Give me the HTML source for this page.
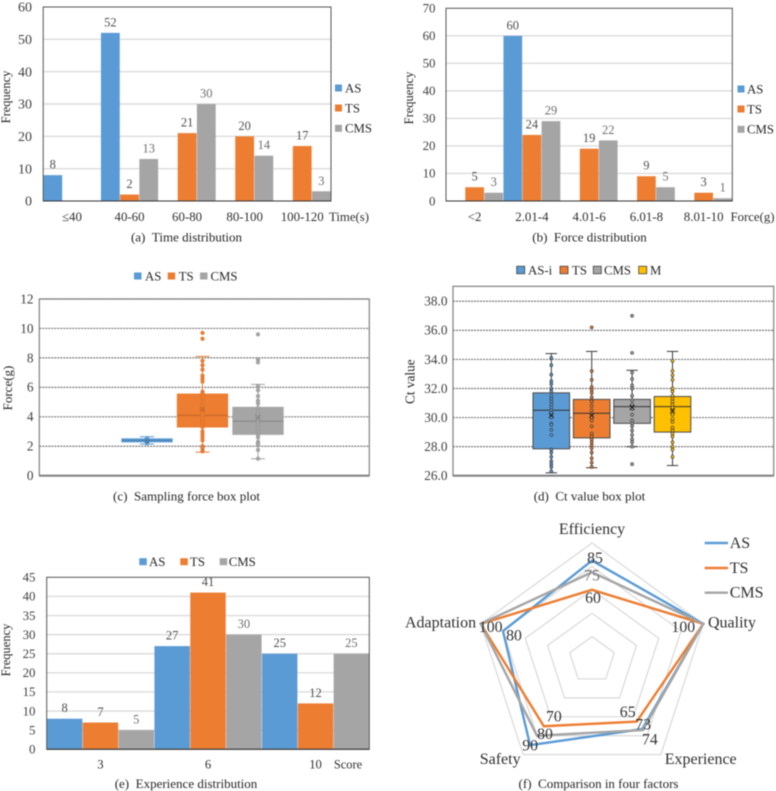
<!DOCTYPE html>
<html>
<head>
<meta charset="utf-8">
<title>Sampling comparison charts</title>
<style>
html,body{margin:0;padding:0;background:#fff;width:776px;height:791px;overflow:hidden}
svg{display:block;font-family:"Liberation Serif",serif;filter:blur(.45px)}
</style>
</head>
<body>
<svg id="figure" xmlns="http://www.w3.org/2000/svg" width="776" height="791" viewBox="0 0 776 791">
<g id="layer"></g>
<g font-size="13" fill="#262626" text-anchor="middle">
<text x="186.5" y="241.5">(a)&#160;&#160;Time distribution</text>
<text x="589.5" y="241.5">(b)&#160;&#160;Force distribution</text>
<text x="186.5" y="500.5">(c)&#160;&#160;Sampling force box plot</text>
<text x="589.5" y="500.5">(d)&#160;&#160;Ct value box plot</text>
<text x="186" y="788">(e)&#160;&#160;Experience distribution</text>
<text x="598.5" y="788">(f)&#160;&#160;Comparison in four factors</text>
</g>
</svg>
<script>
// Chart (a)
const timeCategories = ['≤40','40-60','60-80','80-100','100-120'];
const timeAS = [8,52,null,null,null];
const timeTS = [null,2,21,20,17];
const timeCMS = [null,13,30,14,3];
const timeTicks = [0,10,20,30,40,50,60];
// Chart (b)
const forceCategories = ['<2','2.01-4','4.01-6','6.01-8','8.01-10'];
const forceAS = [null,60,null,null,null];
const forceTS = [5,24,19,9,3];
const forceCMS = [3,29,22,5,1];
const forceTicks = [0,10,20,30,40,50,60,70];
// Chart (c)
const boxForceTicks = [0,2,4,6,8,10,12];
const boxForceNames = ['AS','TS','CMS'];
const boxForceQ1 = [2.29,3.3,2.8];
const boxForceMedian = [2.4,4.1,3.7];
const boxForceQ3 = [2.51,5.55,4.65];
const boxForceLow = [2.15,1.6,1.15];
const boxForceHigh = [2.65,8.1,6.2];
const boxForceMean = [2.4,4.5,3.95];
const forcePointsAS = [2.2,2.3,2.35,2.4,2.45,2.5];
const forcePointsTS = [9.7,9.3,7.8,7.5,7.2,6.8,6.6,6.4,5.7,5.6,5.5,5.3,5.0,4.7,4.5,4.3,4.1,3.9,3.7,3.5,3.3,3.0,2.8,2.6,2.4,2.0,1.9,1.7,1.65];
const forcePointsCMS = [9.6,7.9,7.7,6.1,5.8,5.4,5.1,4.9,4.6,4.4,4.2,4.0,3.8,3.6,3.4,3.2,3.0,2.8,2.6,2.3,2.2,2.1,1.75,1.15];
// Chart (d)
const ctTicks = [26,28,30,32,34,36,38];
const ctNames = ['AS-i','TS','CMS','M'];
const ctQ1 = [27.85,28.6,29.6,29];
const ctMedian = [30.5,30.3,30.75,30.75];
const ctQ3 = [31.7,31.25,31.25,31.45];
const ctLow = [26.2,26.55,28,26.7];
const ctHigh = [34.4,34.55,33.25,34.55];
const ctMean = [30.15,30.15,30.7,30.45];
const ctPointsAS = [34.1,33.6,32.95,32.5,32.3,32.0,31.8,31.5,31.3,31.1,30.9,30.7,30.5,30.3,30.1,30.0,29.6,29.5,29.15,28.8,27.8,27.6,27.3,27.0,26.8,26.6,26.3];
const ctPointsTS = [36.2,33.2,32.6,32.1,31.9,31.7,31.4,31.2,31.1,30.8,30.5,30.2,30.0,29.8,29.4,28.9,28.7,28.5,28.3,28.1,27.9,27.6,27.2,26.9,26.6];
const ctPointsCMS = [37,34.45,33.1,32.65,32.2,32.0,31.5,31.2,30.9,30.6,30.2,29.8,29.6,29.4,29.1,28.8,28.5,28.3,28.0,26.8];
const ctPointsM = [33.9,33.2,32.9,32.6,32,31.8,31.5,31.3,31.1,30.9,30.7,30.5,30.2,29.9,29.7,29.3,29.1,28.9,28.7,28.3,28,27.8,27.3];
// Chart (e)
const expCategories = ['3','6','10'];
const expAS = [8,27,25];
const expTS = [7,41,12];
const expCMS = [5,30,25];
const expTicks = [0,5,10,15,20,25,30,35,40,45];
// Chart (f)
const radarAxes = ['Efficiency','Quality','Experience','Safety','Adaptation'];
const radarAS = [85,100,73,90,80];
const radarTS = [60,100,65,70,100];
const radarCMS = [75,100,74,80,100];
const radarRings = [20,40,60,80,100];

const BLUE='#5b9bd5',ORANGE='#ed7d31',GRAY='#a5a5a5',GOLD='#ffc000',INK='#404040';
const NS='http://www.w3.org/2000/svg';
const layer=document.getElementById('layer');
function mk(tag,attrs,parent){
  const el=document.createElementNS(NS,tag);
  for(const k in attrs)el.setAttribute(k,attrs[k]);
  (parent||layer).appendChild(el);
  return el;
}
function label(parent,x,y,str,size,fill,anchor){
  const t=mk('text',{x:x,y:y,'font-size':size,fill:fill||INK,'text-anchor':anchor||'middle'},parent);
  t.textContent=str;
  return t;
}
function group(name){
  const g=mk('g',{});
  
  
  return g;
}
function rotated(parent,x,y,str,size){
  const t=mk('text',{x:0,y:0,'font-size':size,fill:'#262626','text-anchor':'middle',transform:'translate('+x+' '+y+') rotate(-90)'},parent);
  t.textContent=str;
  
  
}
function xTitle(parent,x,y,str,size){
  const t=label(parent,x,y,str,size,'#303030');
  
  
}
function legendEntry(parent,sx,sy,w,h,color,tx,str,size,outlined){
  const s=mk('rect',{x:sx,y:sy-h/2,width:w,height:h,fill:color},parent);
  if(outlined){s.setAttribute('stroke','#404040');s.setAttribute('stroke-width','.8');}
  
  
  const t=label(parent,tx,sy+4.4,str,size,'#262626','start');
  
  
}
function barChart(o){
  const g=group(o.name);
  const y=v=>o.bottom-(v/o.max)*(o.bottom-o.top);
  o.ticks.forEach(v=>{
    if(v>0&&v<o.max){
      const l=mk('line',{x1:o.left,x2:o.right,y1:y(v),y2:y(v),stroke:'#dcdcdc','stroke-width':1.4},g);
      
      
    }
    const t=label(g,o.tickX,y(v)+o.tickFs*.33,String(v),o.tickFs,INK,'end');
    
    
  });
  const gw=(o.right-o.left)/o.categories.length,bw=gw/o.series.length;
  o.categories.forEach((c,i)=>{
    o.series.forEach((s,j)=>{
      const v=s.values[i];
      if(v===null)return;
      const x=o.left+i*gw+j*bw;
      const b=mk('rect',{x:x+.2,y:y(v),width:bw-.4,height:o.bottom-y(v),fill:s.color},g);
      
      
      const t=label(g,x+bw/2,y(v)-6.5,String(v),o.valueFs,s.name==='CMS'?'#6f6f6f':'#505050');
      
      
    });
    const t=label(g,o.left+(i+.5)*gw,o.catY,c,o.catFs,'#303030');
    
    
  });
  const f=mk('rect',{x:o.left,y:o.top,width:o.right-o.left,height:o.bottom-o.top,fill:'none',stroke:'#555','stroke-width':1},g);
  
  
  const a=mk('line',{x1:o.left,x2:o.right,y1:o.bottom,y2:o.bottom,stroke:'#333','stroke-width':1},g);
  
  
  return g;
}
function boxChart(o){
  const g=group(o.name);
  const y=v=>o.bottom-((v-o.min)/(o.max-o.min))*(o.bottom-o.top);
  o.ticks.forEach(v=>{
    const edge=v===o.ticks[0];
    const l=mk('line',{x1:o.left,x2:o.right,y1:y(v),y2:y(v),stroke:edge?'#8c8c8c':'#787878','stroke-width':edge?2.2:1.2,'stroke-dasharray':edge?'none':'2 1'},g);
    
    
    const t=label(g,o.tickX,y(v)+o.tickFs*.33,o.tickFmt(v),o.tickFs,INK,'end');
    
    
  });
  const f=mk('rect',{x:o.left,y:o.top,width:o.right-o.left,height:o.bottom-o.top,fill:'none',stroke:'#808080','stroke-width':1.2},g);
  
  
  o.names.forEach((n,i)=>{
    const cx=o.first+i*o.gap,hw=o.boxW/2,col=o.colors[i];
    const wc=o.outlined?'#3a3a3a':col;
    const w=mk('line',{x1:cx,x2:cx,y1:y(o.high[i]),y2:y(o.low[i]),stroke:wc,'stroke-width':1},g);
    
    
    [o.high[i],o.low[i]].forEach(v=>{
      const c=mk('line',{x1:cx-o.cap,x2:cx+o.cap,y1:y(v),y2:y(v),stroke:wc,'stroke-width':1},g);
      
      
    });
    const b=mk('rect',{x:cx-hw,y:y(o.q3[i]),width:o.boxW,height:Math.max(y(o.q1[i])-y(o.q3[i]),1),fill:col,stroke:o.outlined?'#4a4a4a':col,'stroke-width':o.outlined?1:.8},g);
    
    
    const m=mk('line',{x1:cx-hw,x2:cx+hw,y1:y(o.median[i]),y2:y(o.median[i]),stroke:o.outlined?'#333':'#00000033','stroke-width':1},g);
    
    
    o.points[i].forEach(v=>{
      const p=mk('circle',{cx:cx,cy:y(v),r:o.outlined?1.5:2,fill:col,stroke:o.outlined?'#333':'#00000018','stroke-width':.6},g);
      
      
    });
    const my=y(o.mean[i]);
    const x=mk('path',{d:'M'+(cx-2.4)+' '+(my-2.4)+'L'+(cx+2.4)+' '+(my+2.4)+'M'+(cx+2.4)+' '+(my-2.4)+'L'+(cx-2.4)+' '+(my+2.4),stroke:o.outlined?'#222':'#00000030','stroke-width':.9,fill:'none'},g);
    
    
  });
  return g;
}

// (a)
const gA=barChart({name:'time-distribution-chart',left:43.2,right:331,top:7,bottom:201,max:60,ticks:timeTicks,tickX:32,tickFs:14,valueFs:12.5,categories:timeCategories,catY:221,catFs:12.9,
  series:[{name:'AS',color:BLUE,values:timeAS},{name:'TS',color:ORANGE,values:timeTS},{name:'CMS',color:GRAY,values:timeCMS}]});
rotated(gA,10,97,'Frequency',12.5);
xTitle(gA,349,221,'Time(s)',12.8);
legendEntry(gA,335,88,7,7,BLUE,345,'AS',12.8);
legendEntry(gA,335,108,7,7,ORANGE,345,'TS',12.8);
legendEntry(gA,335,128.3,7,7,GRAY,345,'CMS',12.8);
// (b)
const gB=barChart({name:'force-distribution-chart',left:446,right:732.3,top:8.3,bottom:201,max:70,ticks:forceTicks,tickX:435.5,tickFs:12.9,valueFs:12.5,categories:forceCategories,catY:221,catFs:12.9,
  series:[{name:'AS',color:BLUE,values:forceAS},{name:'TS',color:ORANGE,values:forceTS},{name:'CMS',color:GRAY,values:forceCMS}]});
rotated(gB,413,98,'Frequency',12.5);
xTitle(gB,752.5,221,'Force(g)',12.8);
legendEntry(gB,737.5,89,7,7,BLUE,747,'AS',12.8);
legendEntry(gB,737.5,109,7,7,ORANGE,747,'TS',12.8);
legendEntry(gB,737.5,129.3,7,7,GRAY,747,'CMS',12.8);
// (c)
const gC=boxChart({name:'sampling-force-box-plot',left:39.3,right:369.3,top:299,bottom:475.7,min:0,max:12,ticks:boxForceTicks,tickX:33.5,tickFs:13.3,tickFmt:v=>String(v),
  names:boxForceNames,colors:[BLUE,ORANGE,GRAY],first:147,gap:55.5,boxW:50.5,cap:7,q1:boxForceQ1,median:boxForceMedian,q3:boxForceQ3,low:boxForceLow,high:boxForceHigh,mean:boxForceMean,
  points:[forcePointsAS,forcePointsTS,forcePointsCMS],outlined:false});
rotated(gC,12,388,'Force(g)',13);
legendEntry(gC,134,276,7.5,7,BLUE,145,'AS',12.8);
legendEntry(gC,167.7,276,7.5,7,ORANGE,178.7,'TS',12.8);
legendEntry(gC,200,276,7.5,7,GRAY,210.5,'CMS',12.8);
// (d)
const gD=boxChart({name:'ct-value-box-plot',left:453,right:773.7,top:286.3,bottom:475.7,min:26,max:39.03,ticks:ctTicks,tickX:447.5,tickFs:13.3,tickFmt:v=>v.toFixed(1),
  names:ctNames,colors:[BLUE,ORANGE,GRAY,GOLD],first:551.3,gap:40.4,boxW:36.6,cap:5.7,q1:ctQ1,median:ctMedian,q3:ctQ3,low:ctLow,high:ctHigh,mean:ctMean,
  points:[ctPointsAS,ctPointsTS,ctPointsCMS,ctPointsM],outlined:true});
rotated(gD,414.5,381.7,'Ct value',13.3);
legendEntry(gD,516.7,270,8,7.5,BLUE,528,'AS-i',12.8,true);
legendEntry(gD,560,270,8,7.5,ORANGE,572,'TS',12.8,true);
legendEntry(gD,593.3,270,8,7.5,GRAY,604,'CMS',12.8,true);
legendEntry(gD,638.7,270,8,7.5,GOLD,650,'M',12.8,true);
// (e)
const gE=barChart({name:'experience-distribution-chart',left:46.7,right:369.3,top:577.3,bottom:749.3,max:45,ticks:expTicks,tickX:35.5,tickFs:12.9,valueFs:12.5,categories:expCategories,catY:768.5,catFs:12.7,
  series:[{name:'AS',color:BLUE,values:expAS},{name:'TS',color:ORANGE,values:expTS},{name:'CMS',color:GRAY,values:expCMS}]});
rotated(gE,10,650,'Frequency',12.5);
xTitle(gE,348,768.5,'Score',12.4);
legendEntry(gE,139.3,561.7,7.5,7,BLUE,149,'AS',12.8);
legendEntry(gE,180.3,561.7,7.5,7,ORANGE,190,'TS',12.8);
legendEntry(gE,219.7,561.7,7.5,7,GRAY,228.7,'CMS',12.8);
// (f)
(function(){
  const g=group('radar-chart');
  const cx=592,cy=660,scale=1.17;
  const pt=(axis,v)=>{
    const a=-Math.PI/2+axis*2*Math.PI/radarAxes.length,r=v*scale;
    return [cx+r*Math.cos(a),cy+r*Math.sin(a)];
  };
  radarRings.forEach(v=>{
    const p=mk('polygon',{points:radarAxes.map((_,i)=>pt(i,v).join(',')).join(' '),fill:'none',stroke:'#d9d9d9','stroke-width':1.2},g);
    
    
  });
  const series=[{n:'AS',c:BLUE,v:radarAS},{n:'TS',c:ORANGE,v:radarTS},{n:'CMS',c:GRAY,v:radarCMS}];
  series.forEach(s=>{
    const p=mk('polygon',{points:s.v.map((v,i)=>pt(i,v).join(',')).join(' '),fill:'none',stroke:s.c,'stroke-width':2.4,'stroke-linejoin':'miter'},g);
    
    
  });
  // Label offsets per series and axis; null means the printed label is not shown in the figure.
  const nudges={
    AS:[[3,-3],null,[1,-5],[0,0],[11,4]],
    TS:[[1,8],[-20,3],[-9,-10],[10,-10],[10,3]],
    CMS:[[0,3],null,[7,9],[8,-2],null]
  };
  series.forEach(s=>{
    s.v.forEach((v,i)=>{
      const off=nudges[s.n][i];
      if(!off)return;
      const p=pt(i,v);
      const t=label(g,p[0]+off[0],p[1]+off[1]+5.3,String(v),15.8,s.n==='CMS'&&i===0?'#777':'#333');
      
      
    });
  });
  const axisLabelPlace=[['middle',592,534],['start',708,627.5],['start',664.7,764],['start',479.7,764],['start',405,627.5]];
  radarAxes.forEach((n,i)=>{
    const q=axisLabelPlace[i];
    const t=label(g,q[1],q[2],n,16,'#303030',q[0]);
    
    
  });
  [[BLUE,'AS',543],[ORANGE,'TS',568],[GRAY,'CMS',592.7]].forEach(r=>{
    const l=mk('line',{x1:704.7,x2:728,y1:r[2],y2:r[2],stroke:r[0],'stroke-width':2.4},g);
    
    
    const t=label(g,729.7,r[2]+5,r[1],16,'#303030','start');
    
    
  });
})();
</script>
</body>
</html>
